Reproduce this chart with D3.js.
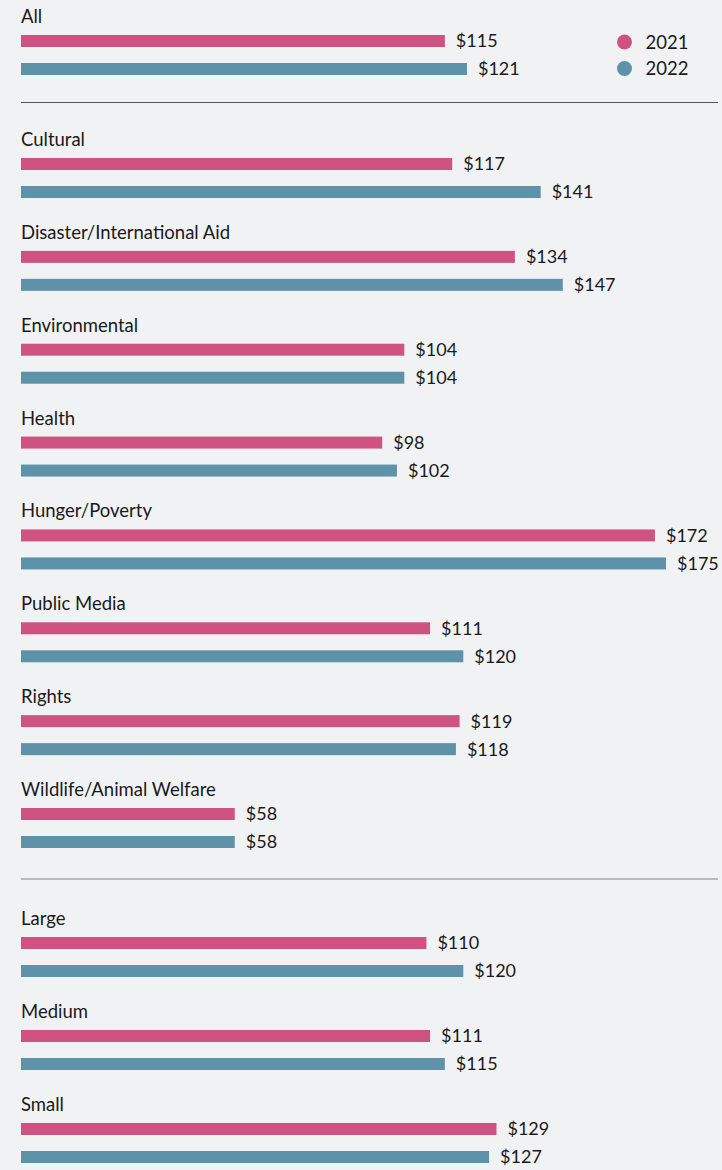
<!DOCTYPE html>
<html>
<head>
<meta charset="utf-8">
<script src="https://cdn.jsdelivr.net/npm/d3@7"></script>
<style>
  body { margin: 0; background: #f1f2f4; }
  svg { display: block; font-family: Lato, "Open Sans", sans-serif; }
</style>
</head>
<body>
<script>
var w = 722; // width of svg
var h = 1170; // height of svg

// data
var topCats = ["All"];
var causeCats = ["Cultural", "Disaster/International Aid", "Environmental", "Health",
  "Hunger/Poverty", "Public Media", "Rights", "Wildlife/Animal Welfare"];
var sizeCats = ["Large", "Medium", "Small"];
var years = ["2021", "2022"];
var values2021 = [115, 117, 134, 104, 98, 172, 111, 119, 58, 110, 111, 129];
var values2022 = [121, 141, 147, 104, 102, 175, 120, 118, 58, 120, 115, 127];

var colors = { "2021": "#d05281", "2022": "#5e92a8" };
var barH = 12; // bar thickness
var pairGap = 28; // distance between 2021 bar and 2022 bar

var svg = d3.select("body").append("svg").attr("width", w).attr("height", h);

// x scale for the bar lengths
var x = d3.scaleLinear().domain([0, 175]).range([21, 666]);

// one point scale per section, gives top of the 2021 bar
var yTop = d3.scalePoint().domain(topCats).range([35, 35]);
var yCause = d3.scalePoint().domain(causeCats).range([158, 808]);
var ySize = d3.scalePoint().domain(sizeCats).range([937, 1123]);

var allCats = topCats.concat(causeCats, sizeCats);
var rows = allCats.map(function (c, i) {
  var y = topCats.indexOf(c) >= 0 ? yTop(c) : causeCats.indexOf(c) >= 0 ? yCause(c) : ySize(c);
  return { cat: c, y: y, v2021: values2021[i], v2022: values2022[i] };
});

// separators
svg.append("line").attr("x1", 21).attr("x2", 718).attr("y1", 102.5).attr("y2", 102.5)
  .attr("stroke", "#555").attr("stroke-width", 1);
svg.append("line").attr("x1", 21).attr("x2", 718).attr("y1", 879).attr("y2", 879)
  .attr("stroke", "#a8a8a8").attr("stroke-width", 1.6);

var g = svg.selectAll("g.row").data(rows).enter().append("g").attr("class", "row");

// category label
g.append("text")
  .attr("x", 21)
  .attr("y", function (d) { return d.y - 12; })
  .attr("font-size", 18.5)
  .attr("fill", "#1a1a1a")
  .text(function (d) { return d.cat; });

years.forEach(function (yr, k) {
  var key = "v" + yr;
  g.append("rect")
    .attr("x", x(0))
    .attr("y", function (d) { return d.y + k * pairGap; })
    .attr("width", function (d) { return x(d[key]) - x(0); })
    .attr("height", barH)
    .attr("fill", colors[yr]);

  g.append("text")
    .attr("x", function (d) { return x(d[key]) + 11; })
    .attr("y", function (d) { return d.y + k * pairGap + barH / 2; })
    .attr("dy", "0.36em")
    .attr("font-size", 18)
    .attr("fill", "#1a1a1a")
    .text(function (d) { return "$" + d[key]; });
});

// legend
var legend = svg.selectAll("g.legend").data(years).enter().append("g").attr("class", "legend")
  .attr("transform", function (d, i) { return "translate(624.5," + (42 + i * 26.5) + ")"; });
legend.append("circle").attr("r", 7.5).attr("fill", function (d) { return colors[d]; });
legend.append("text").attr("x", 21).attr("dy", "0.36em").attr("font-size", 18.5)
  .attr("fill", "#1a1a1a").text(function (d) { return d; });
</script>
</body>
</html>
